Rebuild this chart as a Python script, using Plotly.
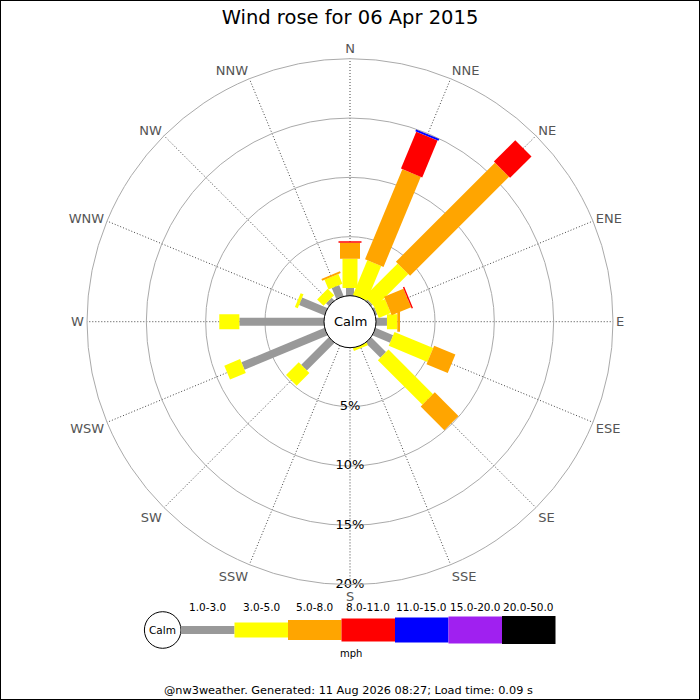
import plotly.graph_objects as go

# ---------------- data ----------------
directions = ["N", "NNE", "NE", "ENE", "E", "ESE", "SE", "SSE",
              "S", "SSW", "SW", "WSW", "W", "WNW", "NW", "NNW"]
speed_bins = ["1.0-3.0", "3.0-5.0", "5.0-8.0", "8.0-11.0",
              "11.0-15.0", "15.0-20.0", "20.0-50.0"]
# frequency (%) per direction for each speed bin
freq_1_3 = [0.67, 0.00, 0.20, 0.20, 0.95, 1.63, 1.79, 0.00,
            0.00, 0.00, 3.31, 7.60, 7.16, 2.34, 0.36, 1.04]
freq_3_5 = [2.47, 3.18, 3.95, 1.09, 0.87, 3.53, 5.31, 0.24,
            0.00, 0.00, 1.52, 1.44, 1.69, 0.26, 0.76, 0.88]
freq_5_8 = [1.35, 8.22, 11.80, 1.77, 0.23, 1.94, 2.82, 0.00,
            0.00, 0.00, 0.00, 0.00, 0.00, 0.00, 0.00, 0.17]
freq_8_11 = [0.13, 3.37, 2.55, 0.12, 0.00, 0.00, 0.00, 0.00,
             0.00, 0.00, 0.00, 0.00, 0.00, 0.00, 0.00, 0.00]
freq_11_15 = [0.00, 0.17, 0.00, 0.00, 0.00, 0.00, 0.00, 0.00,
              0.00, 0.00, 0.00, 0.00, 0.00, 0.00, 0.00, 0.00]
freq_15_20 = [0.0] * 16
freq_20_50 = [0.0] * 16
radial_ticks = [5, 10, 15, 20]
radial_tick_labels = ["5%", "10%", "15%", "20%"]

series = [freq_1_3, freq_3_5, freq_5_8, freq_8_11, freq_11_15, freq_15_20, freq_20_50]

# ---------------- styles ----------------
colors = ["#999999", "#ffff00", "#ffa500", "#ff0000", "#0000ff", "#a020f0", "#000000"]
bar_widths = [8, 15, 20, 23, 25, 27, 28]
FONT = "DejaVu Sans"
W = H = 700
CX, CY = 350, 321.7          # centre of rose in pixels
R_OUT = 263                  # outer radius in pixels
R_HOLE = 25.7                # radius of calm hole in pixels


def px(x):
    return x / W


def py(y):
    return 1 - y / H


fig = go.Figure()

angles = [i * 360 / len(directions) for i in range(len(directions))]
base = [0.0] * len(directions)
for k, vals in enumerate(series):
    th, rr = [], []
    for i, v in enumerate(vals):
        if v > 0:
            th += [angles[i], angles[i], None]
            rr += [base[i], base[i] + v, None]
            base[i] += v
    if th:
        fig.add_trace(go.Scatterpolar(
            r=rr, theta=th, mode="lines",
            line=dict(color=colors[k], width=bar_widths[k]),
            connectgaps=False, showlegend=False, hoverinfo="skip",
            cliponaxis=False,
        ))

# radial tick labels along the S spoke
fig.add_trace(go.Scatterpolar(
    r=radial_ticks, theta=[180] * len(radial_ticks), mode="text",
    text=radial_tick_labels, textposition="middle center",
    textfont=dict(family=FONT, size=13, color="#000000"),
    showlegend=False, hoverinfo="skip", cliponaxis=False,
))

fig.update_layout(
    width=W, height=H,
    margin=dict(l=0, r=0, t=0, b=0),
    paper_bgcolor="white",
    font=dict(family=FONT),
    title=dict(text="Wind rose for 06 Apr 2015", x=0.5, xanchor="center",
               y=py(17), yanchor="middle", yref="container",
               font=dict(family=FONT, size=19.5, color="#000000")),
    polar=dict(
        domain=dict(x=[px(CX - R_OUT), px(CX + R_OUT)],
                    y=[py(CY + R_OUT), py(CY - R_OUT)]),
        hole=R_HOLE / R_OUT,
        bgcolor="white",
        radialaxis=dict(range=[0, 20], tickvals=radial_ticks, showticklabels=False,
                        ticks="", showline=False, gridcolor="#aaaaaa", gridwidth=1),
        angularaxis=dict(direction="clockwise", rotation=90,
                         tickmode="array", tickvals=angles, ticktext=directions,
                         tickfont=dict(family=FONT, size=13, color="#555555"),
                         ticks="", showline=True, linecolor="#aaaaaa", linewidth=1,
                         gridcolor="#444444", griddash="1px,2px", gridwidth=1),
    ),
)

shapes = []
annotations = []


def note(text, x, y, size):
    annotations.append(dict(text=text, x=px(x), y=py(y), xref="paper", yref="paper",
                            xanchor="center", yanchor="middle", showarrow=False,
                            font=dict(family=FONT, size=size, color="#000000")))


# calm circle in the middle
shapes.append(dict(type="circle", xref="paper", yref="paper",
                   x0=px(CX - 26), x1=px(CX + 26), y0=py(CY + 26), y1=py(CY - 26),
                   line=dict(color="#000000", width=1), fillcolor="white", layer="above"))
note("Calm", CX, CY, 13)

# speed legend
LX0, LBW, LY = 181, 53.5, 630
shapes.append(dict(type="circle", xref="paper", yref="paper",
                   x0=px(162.7 - 18.3), x1=px(162.7 + 18.3), y0=py(LY + 18.3), y1=py(LY - 18.3),
                   line=dict(color="#000000", width=1), fillcolor="white"))
note("Calm", 162.7, LY, 10.5)
for k, lab in enumerate(speed_bins):
    x0 = LX0 + k * LBW
    h = bar_widths[k]
    shapes.append(dict(type="rect", xref="paper", yref="paper",
                       x0=px(x0), x1=px(x0 + LBW), y0=py(LY + h / 2), y1=py(LY - h / 2),
                       line=dict(width=0), fillcolor=colors[k]))
    note(lab, x0 + LBW / 2, 607, 10.5)
note("mph", 351, 653, 10)
note("@nw3weather. Generated: 11 Aug 2026 08:27; Load time: 0.09 s", 348, 690, 11.3)

# image border
shapes.append(dict(type="rect", xref="paper", yref="paper", x0=0, x1=1, y0=0, y1=1,
                   line=dict(color="#000000", width=2), fillcolor="rgba(0,0,0,0)"))

fig.update_layout(shapes=shapes, annotations=annotations)
fig.write_html("out.html", config={"displayModeBar": False},
               post_script="document.body.style.margin='0px';")
